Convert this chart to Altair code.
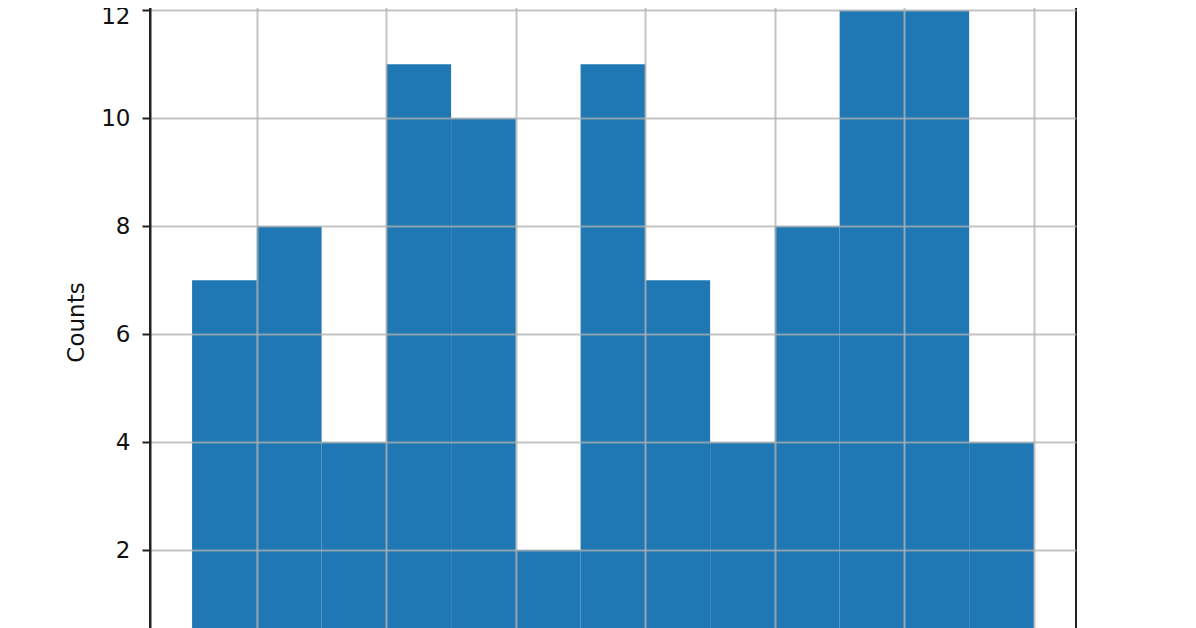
import altair as alt
import pandas as pd

bin_starts = list(range(13))
bin_ends = [s + 1 for s in bin_starts]
counts = [7, 8, 4, 11, 10, 2, 11, 7, 4, 8, 12, 12, 4]
x_grid = [1, 3, 5, 7, 9, 11, 13]
y_ticks = [2, 4, 6, 8, 10, 12]

df = pd.DataFrame({"start": bin_starts, "end": bin_ends, "count": counts,
                   "base": [0] * len(counts)})

chart = alt.Chart(df).mark_bar(color="#1f77b4", clip=True).encode(
    x=alt.X(
        "start:Q",
        scale=alt.Scale(domain=[-0.65, 13.65], nice=False, zero=False),
        axis=alt.Axis(values=x_grid, labels=False, ticks=False, domain=False,
                      title=None, grid=True, gridColor="#b0b0b0",
                      gridWidth=2, gridOpacity=0.75, zindex=1),
    ),
    x2="end:Q",
    y=alt.Y(
        "count:Q",
        scale=alt.Scale(domain=[0, 12.6], nice=False),
        axis=alt.Axis(values=y_ticks, title="Counts", grid=True,
                      gridColor="#b0b0b0", gridWidth=2, gridOpacity=0.75,
                      tickSize=8, tickWidth=2, tickColor="#222222",
                      domainColor="#222222", domainWidth=2,
                      labelPadding=12, labelFontSize=23, labelColor="#111111",
                      labelFont="DejaVu Sans",
                      labelOffset={"condition": {"test": "datum.value == 12", "value": 6}, "value": 0},
                      titleFont="DejaVu Sans", titleFontSize=23,
                      titleFontWeight="normal", titleColor="#111111",
                      titleAngle=270, titleX=-74, titleY=344,
                      titleAlign="center", titleBaseline="middle",
                      zindex=1),
    ),
    y2="base:Q",
).properties(
    width=926,
    height=680,
    padding={"left": 142, "top": -30, "right": 100, "bottom": -30},
    autosize="none",
).configure_view(stroke="#222222", strokeWidth=2)

chart.save("out.html", embed_options={"renderer": "svg", "actions": False})
